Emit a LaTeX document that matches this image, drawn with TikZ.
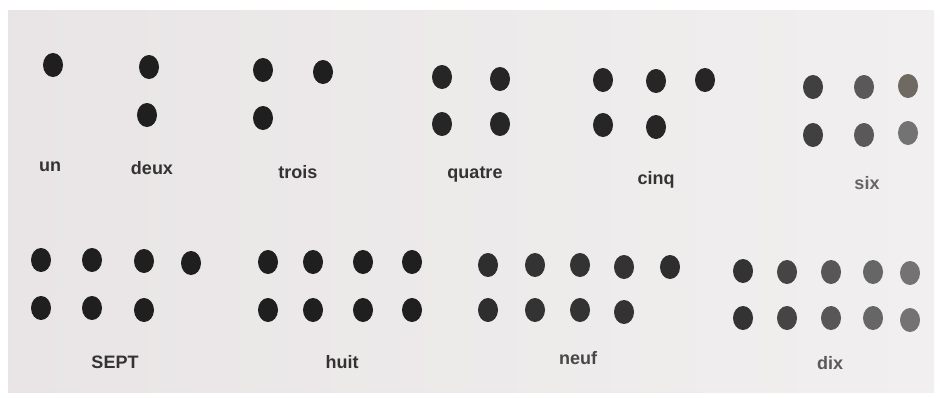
\documentclass[tikz,border=0pt]{standalone}
\usepackage{fontspec}
\setmainfont{Liberation Sans}
\usetikzlibrary{shapes.geometric}
\definecolor{page}{HTML}{E9E5E6}
\definecolor{pageR}{HTML}{F1EFEF}
\definecolor{sixtan}{HTML}{6E6961}
\tikzset{
  dot/.style={ellipse, inner sep=0pt, minimum width=20pt, minimum height=24pt, fill=#1},
  dot/.default={black!88},
  lbl/.style={font=\bfseries\fontsize{18}{18}\selectfont, text=black!80, inner sep=0pt}
}
\begin{document}
\begin{tikzpicture}[x=1pt,y=-1pt]
\useasboundingbox (0,0) rectangle (940,397);
\fill[white] (0,0) rectangle (940,397);
\shade[left color=page, right color=pageR] (8,10) rectangle (934,392);
% un
\node[dot] (un1) at (53,65) {};
\node[lbl] (lun) at (50,167) {un};
% deux
\node[dot] (de1) at (149,67) {};
\node[dot] (de2) at (147,115) {};
\node[lbl] (ldeux) at (152,168) {deux};
% trois
\node[dot] (tr1) at (263,70) {};
\node[dot] (tr2) at (323,72) {};
\node[dot] (tr3) at (263,118) {};
\node[lbl] (ltrois) at (298,172) {trois};
% quatre
\node[dot=black!85] (qu1) at (442,77) {};
\node[dot=black!85] (qu2) at (500,79) {};
\node[dot=black!85] (qu3) at (442,124) {};
\node[dot=black!85] (qu4) at (500,124) {};
\node[lbl] (lquatre) at (475,174) {quatre};
% cinq
\node[dot=black!85] (ci1) at (603,80) {};
\node[dot=black!85] (ci2) at (656,81) {};
\node[dot=black!85] (ci3) at (705,80) {};
\node[dot=black!85] (ci4) at (603,125) {};
\node[dot=black!85] (ci5) at (656,127) {};
\node[lbl] (lcinq) at (656,180) {cinq};
% six
\node[dot=black!75] (si1) at (813,87) {};
\node[dot=black!65] (si2) at (864,87) {};
\node[dot=sixtan] (si3) at (908,86) {};
\node[dot=black!75] (si4) at (813,135) {};
\node[dot=black!65] (si5) at (864,135) {};
\node[dot=black!55] (si6) at (908,133) {};
\node[lbl, text=black!60] (lsix) at (867,183) {six};
% SEPT
\node[dot] (se1) at (41,260) {};
\node[dot] (se2) at (92,260) {};
\node[dot] (se3) at (144,261) {};
\node[dot] (se4) at (191,263) {};
\node[dot] (se5) at (41,308) {};
\node[dot] (se6) at (92,308) {};
\node[dot] (se7) at (144,310) {};
\node[lbl] (lsept) at (115,362) {SEPT};
% huit
\node[dot] (hu1) at (268,262) {};
\node[dot] (hu2) at (313,262) {};
\node[dot] (hu3) at (363,262) {};
\node[dot] (hu4) at (412,262) {};
\node[dot] (hu5) at (268,310) {};
\node[dot] (hu6) at (313,310) {};
\node[dot] (hu7) at (363,310) {};
\node[dot] (hu8) at (412,310) {};
\node[lbl] (lhuit) at (342,362) {huit};
% neuf
\node[dot=black!82] (ne1) at (488,265) {};
\node[dot=black!80] (ne2) at (535,265) {};
\node[dot=black!80] (ne3) at (580,265) {};
\node[dot=black!80] (ne4) at (624,267) {};
\node[dot=black!82] (ne5) at (670,267) {};
\node[dot=black!82] (ne6) at (488,310) {};
\node[dot=black!80] (ne7) at (535,310) {};
\node[dot=black!80] (ne8) at (580,310) {};
\node[dot=black!80] (ne9) at (624,312) {};
\node[lbl, text=black!72] (lneuf) at (578,358) {neuf};
% dix
\node[dot=black!80] (di1) at (743,271) {};
\node[dot=black!73] (di2) at (787,272) {};
\node[dot=black!66] (di3) at (831,272) {};
\node[dot=black!60] (di4) at (873,272) {};
\node[dot=black!55] (di5) at (910,273) {};
\node[dot=black!80] (di6) at (743,318) {};
\node[dot=black!73] (di7) at (787,318) {};
\node[dot=black!66] (di8) at (831,318) {};
\node[dot=black!60] (di9) at (873,318) {};
\node[dot=black!55] (di10) at (910,320) {};
\node[lbl, text=black!65] (ldix) at (830,363) {dix};
\end{tikzpicture}
\end{document}
